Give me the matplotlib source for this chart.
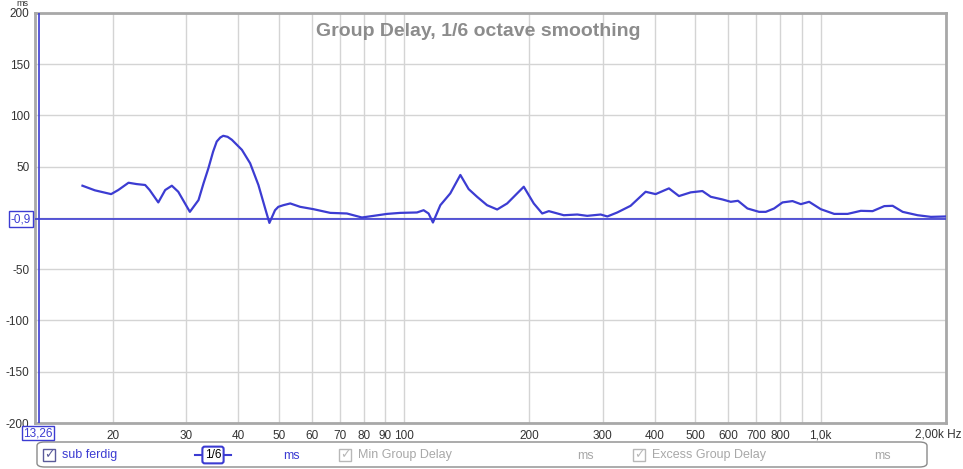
import matplotlib.pyplot as plt
from matplotlib.patches import FancyBboxPatch, Rectangle

# group delay of "sub ferdig", 1/6 octave smoothing
freq_hz = [16.9, 18.1, 19.8, 20.6, 21.8, 22.8, 23.9, 24.5, 25.7, 26.7,
           27.7, 28.7, 30.6, 32.1, 33.0, 33.9, 34.8, 35.5, 36.2, 36.8, 37.7, 38.6, 40.8, 42.7,
           44.7, 46.4, 47.5, 49.0, 49.9, 51.3, 53.3, 56.3, 60.6, 66.5,
           72.9, 79.2, 84.5, 91.0, 97.9, 107.4, 111.4, 114.5, 117.3, 122.2,
           129.1, 136.5, 142.9, 149.7, 158.2, 167.3, 176.8, 183.4, 193.8, 204.8,
           214.6, 222.6, 241.8, 260.5, 275.2, 296.5, 307.6, 325.0, 349.8, 380.1,
           401.7, 432.4, 457.1, 487.6, 520.3, 544.8, 581.1, 608.5, 633.4, 667.3,
           711.6, 738.6, 773.4, 810.0, 856.2, 896.4, 938.6, 1001, 1078, 1161,
           1249, 1333, 1422, 1489, 1574, 1710, 1840, 2000]
delay_ms = [31.5, 27.0, 23.3, 27.3, 34.4, 33.1, 32.2, 27.3, 15.2, 27.3,
            31.5, 25.6, 6.0, 17.5, 33.8, 48.5, 64.8, 74.6, 78.5, 80.2, 79.2, 76.3, 66.5, 53.4,
            32.2, 9.3, -4.8, 7.6, 10.9, 12.5, 14.2, 10.9, 8.6, 5.0,
            4.4, 0.5, 2.1, 4.0, 5.0, 5.4, 7.6, 4.4, -4.4, 12.5,
            24.0, 42.0, 28.2, 20.7, 12.5, 8.3, 14.2, 20.7, 30.5, 14.2,
            4.4, 6.7, 2.7, 3.4, 2.1, 3.4, 1.5, 5.4, 11.9, 25.6,
            23.3, 28.9, 21.4, 25.0, 26.3, 20.7, 18.1, 15.8, 16.8, 9.3,
            6.0, 6.0, 9.3, 15.2, 16.5, 13.5, 15.8, 8.6, 4.0, 4.0,
            7.0, 6.7, 11.6, 11.9, 6.0, 2.7, 1.1, 1.5]

x_ticks = [20, 30, 40, 50, 60, 70, 80, 90, 100, 200, 300, 400, 500, 600, 700, 800, 900, 1000, 2000]
x_labels = ['20', '30', '40', '50', '60', '70', '80', '90', '100', '200', '300', '400',
            '500', '600', '700', '800', '', '1,0k', '']
y_ticks = [-200, -150, -100, -50, 0, 50, 100, 150, 200]
y_labels = ['-200', '-150', '-100', '-50', '', '50', '100', '150', '200']

cursor_hz = 13.26
cursor_ms = -0.9

BLUE = '#3c3cd2'
W, H = 963, 469

plt.rcParams['font.family'] = ['Liberation Sans', 'DejaVu Sans']


def fx(x):
    return x / W


def fy(y):
    return 1 - y / H


fig = plt.figure(figsize=(W / 100, H / 100), dpi=100)
ax = fig.add_axes([fx(35), fy(423), 911 / W, 410 / H])

ax.set_xscale('log')
ax.set_xlim(13.0, 2000)
ax.set_ylim(-200, 200)
ax.set_xticks(x_ticks)
ax.set_xticklabels(x_labels)
ax.xaxis.set_minor_locator(plt.NullLocator())
ax.set_yticks(y_ticks)
ax.set_yticklabels(y_labels)
ax.tick_params(length=0, labelsize=8.5, labelcolor='#333333')
ax.tick_params(axis='x', pad=5)
ax.tick_params(axis='y', pad=4)
ax.grid(True, color='#d4d4d4', linewidth=1)
for s in ax.spines.values():
    s.set_color('#a8a8a8')
    s.set_linewidth(2)

ax.axhline(cursor_ms, color=BLUE, linewidth=1.2, zorder=3)
ax.axvline(cursor_hz, color=BLUE, linewidth=1.2, zorder=3)
ax.plot(freq_hz, delay_ms, color=BLUE, linewidth=1.6, zorder=4)

ax.text(0.487, 0.975, 'Group Delay, 1/6 octave smoothing', transform=ax.transAxes,
        ha='center', va='top', fontsize=14, fontweight='bold', color='#8c8c8c')

# axis annotations
fig.text(fx(22), fy(3), 'ms', fontsize=6.5, color='#333333', ha='center', va='center')
fig.text(fx(961), fy(434), '2,00k Hz', fontsize=8.5, color='#333333', ha='right', va='center')
fig.text(fx(21), fy(219), '-0,9', fontsize=8.5, color=BLUE, ha='center', va='center',
         bbox=dict(boxstyle='square,pad=0.15', fc='white', ec=BLUE, lw=1))
fig.text(fx(38), fy(433), '13,26', fontsize=8.5, color=BLUE, ha='center', va='center',
         bbox=dict(boxstyle='square,pad=0.1', fc='white', ec=BLUE, lw=1))

# legend panel
fig.patches.append(FancyBboxPatch((fx(37), fy(467)), (927 - 37) / W, 25 / H,
                                  boxstyle='round,pad=0,rounding_size=0.008',
                                  transform=fig.transFigure, fc='white', ec='#8a8a8a', lw=1))


def checkbox(x, color, label, txtcolor):
    fig.patches.append(Rectangle((fx(x), fy(461)), 12 / W, 12 / H, transform=fig.transFigure,
                                 fc='white', ec=color, lw=1))
    fig.text(fx(x + 6), fy(455), '\u2713', fontsize=9, color=color, ha='center', va='center',
             family='DejaVu Sans')
    fig.text(fx(x + 19), fy(455), label, fontsize=9, color=txtcolor, ha='left', va='center')


checkbox(43, '#5a5a9a', 'sub ferdig', BLUE)
checkbox(339, '#b8b8b8', 'Min Group Delay', '#a8a8a8')
checkbox(633, '#b8b8b8', 'Excess Group Delay', '#a8a8a8')

fig.text(fx(213), fy(455), '1/6', fontsize=8.5, color='black', ha='center', va='center',
         bbox=dict(boxstyle='round,pad=0.2', fc='white', ec=BLUE, lw=1.5))
fig.add_artist(plt.Line2D([fx(195), fx(201)], [fy(455), fy(455)], color=BLUE, lw=1.5))
fig.add_artist(plt.Line2D([fx(225), fx(231)], [fy(455), fy(455)], color=BLUE, lw=1.5))
fig.text(fx(291), fy(456), 'ms', fontsize=9, color=BLUE, ha='center', va='center')
fig.text(fx(585), fy(456), 'ms', fontsize=9, color='#a8a8a8', ha='center', va='center')
fig.text(fx(882), fy(456), 'ms', fontsize=9, color='#a8a8a8', ha='center', va='center')

fig.savefig('out.png', dpi=100)
